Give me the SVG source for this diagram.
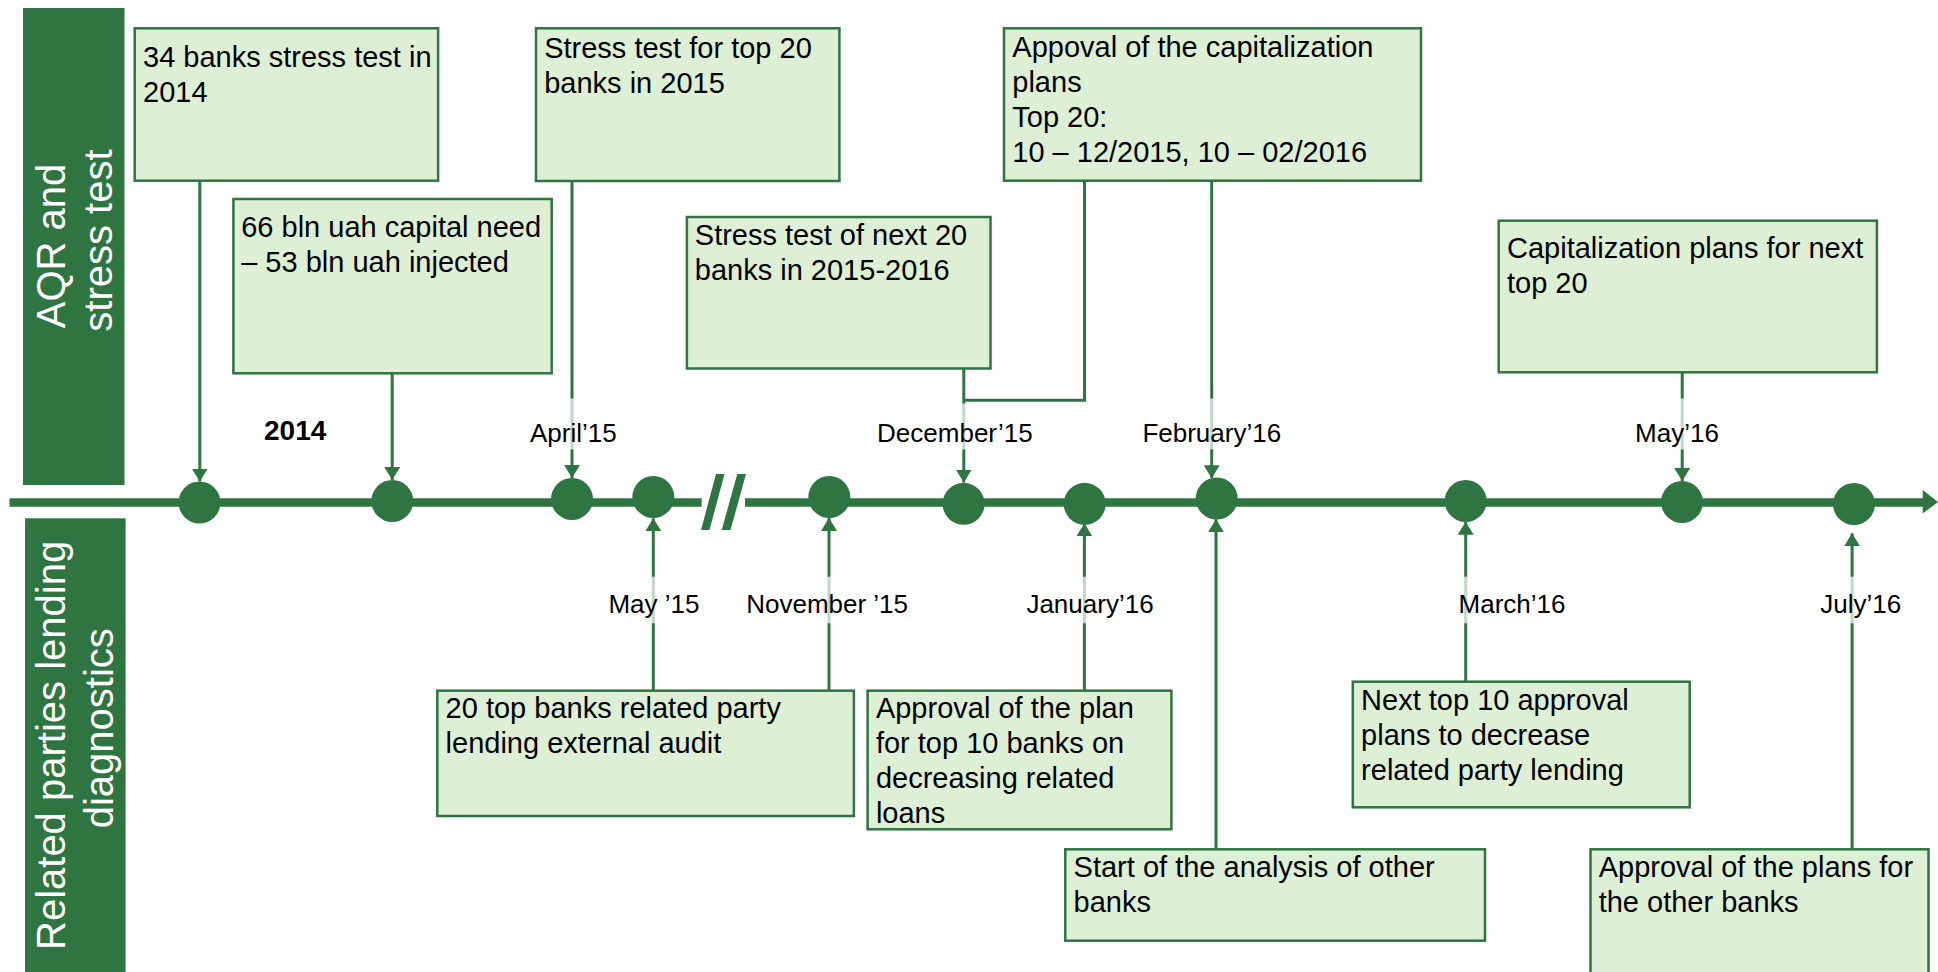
<svg xmlns="http://www.w3.org/2000/svg" width="1938" height="972" viewBox="0 0 1938 972">
<style>
.box{fill:#DDEFD5;stroke:#2F7542;stroke-width:2.5}
.t{font-family:"Liberation Sans",Arial,sans-serif;font-size:29px;fill:#000}
.d{font-family:"Liberation Sans",Arial,sans-serif;font-size:26px;fill:#000}
.lane{fill:#2F7542}
.lt{font-family:"Liberation Sans",Arial,sans-serif;font-size:40px;fill:#fff}
.c{fill:none;stroke:#2F7542;stroke-width:3}
.dot{fill:#2F7542}
.bg{fill:#fff;fill-opacity:0.7}
</style>
<defs>
<marker id="ah" viewBox="0 0 13 16" refX="13" refY="8" markerWidth="13" markerHeight="16" markerUnits="userSpaceOnUse" orient="auto">
<path d="M0,0 L13,8 L0,16 Z" fill="#2F7542"/>
</marker>
</defs>

<g id="lane-top">
<rect class="lane" x="23" y="8" width="101.5" height="477"/>
<text class="lt" transform="translate(65,328.3) rotate(-90)">AQR and</text>
<text class="lt" transform="translate(112,331.7) rotate(-90)">stress test</text>
</g>
<g id="lane-bottom">
<rect class="lane" x="25" y="518.3" width="100.6" height="460"/>
<text class="lt" transform="translate(65,950) rotate(-90)">Related parties lending</text>
<text class="lt" transform="translate(113,828.3) rotate(-90)">diagnostics</text>
</g>

<g id="axis">
<path d="M9.5,502.5 H701.7 M745,502.5 H1924" stroke="#2F7542" stroke-width="8.3" fill="none"/>
<polygon points="1922.7,490 1938,501.9 1922.7,513.5" fill="#2F7542"/>
<polygon points="716,474 724.5,474 709.5,530 701,530" fill="#2F7542"/>
<polygon points="737.3,474 746,474 730.5,530 721.7,530" fill="#2F7542"/>
</g>

<g id="connectors">
<path class="c" d="M199.8,180.7 V481.5" marker-end="url(#ah)"/>
<path class="c" d="M392.2,373.3 V480" marker-end="url(#ah)"/>
<path class="c" d="M572,181 V478" marker-end="url(#ah)"/>
<path class="c" d="M963.8,368.5 V482.5" marker-end="url(#ah)"/>
<path class="c" d="M1084.5,180.7 V400.3 H963.8"/>
<path class="c" d="M1211.7,180.7 V478.3" marker-end="url(#ah)"/>
<path class="c" d="M1682.2,372.3 V481" marker-end="url(#ah)"/>
<path class="c" d="M653.3,690.7 V518.3" marker-end="url(#ah)"/>
<path class="c" d="M829,690.7 V518" marker-end="url(#ah)"/>
<path class="c" d="M1084.4,690.7 V523.3" marker-end="url(#ah)"/>
<path class="c" d="M1216,849.3 V519.3" marker-end="url(#ah)"/>
<path class="c" d="M1465.7,681.7 V521.7" marker-end="url(#ah)"/>
<path class="c" d="M1852.1,849.3 V533.3" marker-end="url(#ah)"/>
</g>

<g id="milestones">
<circle class="dot" cx="199.5" cy="502.5" r="21"/>
<circle class="dot" cx="392.3" cy="501" r="21"/>
<circle class="dot" cx="572" cy="499" r="21"/>
<circle class="dot" cx="653.3" cy="497" r="21"/>
<circle class="dot" cx="829.3" cy="497" r="21"/>
<circle class="dot" cx="963.6" cy="503.8" r="21"/>
<circle class="dot" cx="1084.7" cy="503.8" r="21"/>
<circle class="dot" cx="1216.7" cy="498.5" r="21"/>
<circle class="dot" cx="1465.7" cy="501" r="21"/>
<circle class="dot" cx="1682" cy="502" r="21"/>
<circle class="dot" cx="1854" cy="504" r="21"/>
</g>

<g id="date-labels">
<text x="264" y="440" font-family="Liberation Sans, Arial, sans-serif" font-size="28" font-weight="bold" fill="#000">2014</text>
<rect class="bg" x="527" y="398.5" width="90" height="51"/>
<text class="d" x="530" y="441.7">April’15</text>
<rect class="bg" x="874" y="403.5" width="162" height="46"/>
<text class="d" x="877.1" y="441.7">December’15</text>
<rect class="bg" x="1139" y="398.5" width="146" height="51"/>
<text class="d" x="1142.4" y="441.7">February’16</text>
<rect class="bg" x="1632" y="398.5" width="89" height="51"/>
<text class="d" x="1635.1" y="441.7">May’16</text>
<rect class="bg" x="605" y="576.7" width="96" height="46.6"/>
<text class="d" x="608.4" y="612.7">May ’15</text>
<rect class="bg" x="743" y="576.7" width="170" height="46.6"/>
<text class="d" x="746.2" y="612.7">November ’15</text>
<rect class="bg" x="1023" y="576.7" width="135" height="46.6"/>
<text class="d" x="1026.4" y="612.7">January’16</text>
<rect class="bg" x="1455" y="576.7" width="114" height="46.6"/>
<text class="d" x="1458.6" y="612.7">March’16</text>
<rect class="bg" x="1817" y="576.7" width="86" height="46.6"/>
<text class="d" x="1820.3" y="612.7">July’16</text>
</g>

<g id="n1">
<rect class="box" x="134.7" y="28.3" width="303.4" height="152.4"/>
<text class="t" x="143" y="66.7">34 banks stress test in</text>
<text class="t" x="143" y="101.7">2014</text>
</g>
<g id="n2">
<rect class="box" x="233.4" y="199" width="318.3" height="174.3"/>
<text class="t" x="241.2" y="236.7">66 bln uah capital need</text>
<text class="t" x="241.2" y="271.7">– 53 bln uah injected</text>
</g>
<g id="n3">
<rect class="box" x="536" y="28.3" width="303.4" height="152.7"/>
<text class="t" x="544.2" y="58.3">Stress test for top 20</text>
<text class="t" x="544.2" y="93.3">banks in 2015</text>
</g>
<g id="n4">
<rect class="box" x="686.9" y="217" width="303.6" height="151.5"/>
<text class="t" x="694.8" y="245">Stress test of next 20</text>
<text class="t" x="694.8" y="280">banks in 2015-2016</text>
</g>
<g id="n5">
<rect class="box" x="1004" y="28.3" width="417" height="152.4"/>
<text class="t" x="1012.3" y="56.7">Appoval of the capitalization</text>
<text class="t" x="1012.3" y="91.7">plans</text>
<text class="t" x="1012.3" y="126.7">Top 20:</text>
<text class="t" x="1012.3" y="161.7">10 – 12/2015, 10 – 02/2016</text>
</g>
<g id="n6">
<rect class="box" x="1498.7" y="220.7" width="378.2" height="151.6"/>
<text class="t" x="1507" y="258.3">Capitalization plans for next</text>
<text class="t" x="1507" y="293.3">top 20</text>
</g>
<g id="n7">
<rect class="box" x="437.3" y="690.7" width="416.6" height="125.3"/>
<text class="t" x="445.6" y="718.3">20 top banks related party</text>
<text class="t" x="445.6" y="753.3">lending external audit</text>
</g>
<g id="n8">
<rect class="box" x="867.6" y="690.7" width="303.8" height="138.6"/>
<text class="t" x="875.9" y="718.3">Approval of the plan</text>
<text class="t" x="875.9" y="753.3">for top 10 banks on</text>
<text class="t" x="875.9" y="788.3">decreasing related</text>
<text class="t" x="875.9" y="823.3">loans</text>
</g>
<g id="n9">
<rect class="box" x="1065.3" y="849.3" width="419.7" height="91.4"/>
<text class="t" x="1073.6" y="876.7">Start of the analysis of other</text>
<text class="t" x="1073.6" y="911.7">banks</text>
</g>
<g id="n10">
<rect class="box" x="1352.8" y="681.7" width="336.9" height="125.6"/>
<text class="t" x="1361.1" y="710">Next top 10 approval</text>
<text class="t" x="1361.1" y="745">plans to decrease</text>
<text class="t" x="1361.1" y="780">related party lending</text>
</g>
<g id="n11">
<rect class="box" x="1590.5" y="849.3" width="338" height="135"/>
<text class="t" x="1598.7" y="876.7">Approval of the plans for</text>
<text class="t" x="1598.7" y="911.7">the other banks</text>
</g>
</svg>
